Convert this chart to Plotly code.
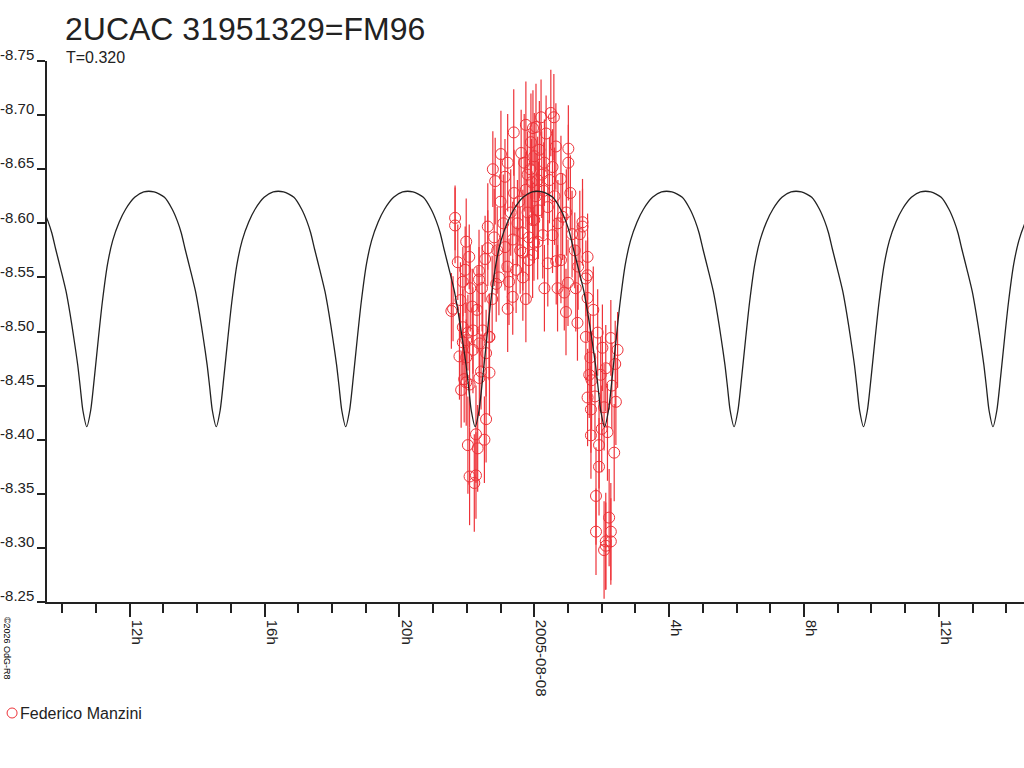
import pandas as pd
import plotly.graph_objects as go

day0 = pd.Timestamp("2005-08-08 00:00")

# observations: hours from 2005-08-08 00:00, magnitude, error
obs_hours = [
    -2.35, -2.35, -2.02, -2.27, -1.93, -2.12, -1.64, -1.64, -2.41, -1.84,
    -1.38, -1.38, -1.46, -1.19, -1.23, -1.16, -0.99, -0.79, -0.87, -0.61,
    -0.25, -0.04, -0.39, -0.30, -0.20, -0.25, -0.60, -1.05, -0.75, -0.64,
    -0.79, -1.13, -0.34, -0.34, -0.16, -0.16, -0.01, -0.20, -0.05, -0.34,
    -2.12, -1.82, -1.53, -1.34, -1.97, -0.54, -0.87, -0.64,
    0.49, 0.58, 0.20, 0.05, 1.01, 1.01, 0.64, 0.35, 0.79, 1.07,
    1.43, 1.43, 0.25, 0.10, 0.40, -0.05, 0.54, 0.79, 1.58, 1.58,
    1.53, 0.69, 0.89, 1.23, 0.94, 1.28, 1.58, 1.88, 2.27, 0.00,
    0.40, 0.84, 0.10, 0.54, 0.30,
    -2.22, -2.12, -1.33, -1.63, -1.43, -1.58, -1.33, -1.63, -2.02, -1.92,
    -2.17, -1.43, -1.73, -1.48, -1.97, -1.68, -1.92, -1.73, -1.78, -2.02,
    -1.82,
    1.53, 2.47, 2.02, 1.66, 1.63, 1.97, 2.12, 1.58, 1.68, 2.07,
    2.42, 2.17, 1.68, 1.92, 2.37, 1.92, 1.83, 1.83, 2.22, 2.27,
    2.12, 2.27, 2.07, 2.12,
    -2.05, -2.19, -2.08, -2.02,
    -0.10, 0.00, 0.15, 0.22, -0.12, 0.28, 0.05, -0.08, 0.12, 0.45,
    0.60, 0.70, 0.95, 1.12, 1.20, 1.30, 1.35, -0.45, -0.50, -0.70,
    -0.92, -1.00, -1.10, -0.80, -0.42, 0.30, 0.65, 1.00, -0.25, -1.25,
    -1.55, -1.70, -1.90, -2.46, 1.75, 1.70, 2.00, 2.30, 2.40, 1.80,
]
obs_mag = [
    -8.605, -8.598, -8.583, -8.564, -8.569, -8.546, -8.556, -8.548, -8.521, -8.523,
    -8.597, -8.577, -8.567, -8.587, -8.650, -8.639, -8.664, -8.656, -8.643, -8.684,
    -8.691, -8.688, -8.665, -8.656, -8.645, -8.631, -8.628, -8.550, -8.546, -8.532,
    -8.521, -8.544, -8.550, -8.573, -8.566, -8.587, -8.582, -8.610, -8.603, -8.591,
    -8.504, -8.501, -8.501, -8.495, -8.499, -8.557, -8.578, -8.585,
    -8.702, -8.698, -8.698, -8.689, -8.669, -8.656, -8.671, -8.683, -8.641, -8.628,
    -8.601, -8.597, -8.589, -8.583, -8.563, -8.571, -8.589, -8.566, -8.569, -8.552,
    -8.549, -8.540, -8.536, -8.540, -8.518, -8.508, -8.531, -8.499, -8.494, -8.603,
    -8.615, -8.606, -8.640, -8.652, -8.656,
    -8.477, -8.490, -8.495, -8.489, -8.480, -8.463, -8.462, -8.457, -8.453, -8.451,
    -8.446, -8.419, -8.405, -8.400, -8.395, -8.392, -8.366, -8.367, -8.360, -8.492,
    -8.483,
    -8.495, -8.483, -8.485, -8.476, -8.460, -8.460, -8.466, -8.439, -8.428, -8.430,
    -8.435, -8.407, -8.404, -8.395, -8.388, -8.375, -8.348, -8.315, -8.328, -8.315,
    -8.306, -8.306, -8.298, -8.302,
    -8.557, -8.529, -8.456, -8.476,
    -8.675, -8.662, -8.668, -8.645, -8.650, -8.630, -8.625, -8.638, -8.612, -8.640,
    -8.625, -8.600, -8.610, -8.590, -8.575, -8.560, -8.590, -8.620, -8.600, -8.610,
    -8.600, -8.620, -8.575, -8.560, -8.575, -8.540, -8.565, -8.545, -8.530, -8.530,
    -8.540, -8.520, -8.540, -8.519, -8.520, -8.455, -8.410, -8.450, -8.470, -8.440,
]
obs_err = [
    0.030, 0.035, 0.040, 0.035, 0.030, 0.032, 0.038, 0.030, 0.030, 0.035,
    0.040, 0.035, 0.040, 0.045, 0.035, 0.040, 0.040, 0.045, 0.035, 0.040,
    0.040, 0.035, 0.040, 0.045, 0.040, 0.035, 0.040, 0.035, 0.040, 0.035,
    0.040, 0.035, 0.040, 0.035, 0.040, 0.040, 0.035, 0.040, 0.035, 0.040,
    0.035, 0.040, 0.035, 0.040, 0.035, 0.040, 0.040, 0.035,
    0.040, 0.040, 0.035, 0.040, 0.040, 0.035, 0.040, 0.035, 0.040, 0.035,
    0.040, 0.035, 0.040, 0.035, 0.040, 0.040, 0.035, 0.040, 0.040, 0.035,
    0.035, 0.040, 0.035, 0.040, 0.040, 0.035, 0.040, 0.040, 0.035, 0.040,
    0.035, 0.040, 0.040, 0.035, 0.040,
    0.040, 0.035, 0.040, 0.035, 0.040, 0.035, 0.040, 0.035, 0.040, 0.040,
    0.035, 0.040, 0.045, 0.040, 0.045, 0.040, 0.045, 0.040, 0.045, 0.035,
    0.040,
    0.040, 0.035, 0.040, 0.040, 0.040, 0.035, 0.040, 0.045, 0.040, 0.040,
    0.040, 0.045, 0.040, 0.040, 0.045, 0.045, 0.045, 0.040, 0.045, 0.045,
    0.045, 0.040, 0.045, 0.040,
    0.040, 0.035, 0.040, 0.035,
    0.045, 0.040, 0.045, 0.040, 0.040, 0.045, 0.040, 0.040, 0.045, 0.040,
    0.045, 0.040, 0.040, 0.040, 0.035, 0.040, 0.040, 0.040, 0.040, 0.040,
    0.045, 0.040, 0.040, 0.040, 0.040, 0.040, 0.040, 0.040, 0.040, 0.040,
    0.040, 0.040, 0.040, 0.035, 0.040, 0.045, 0.040, 0.040, 0.040, 0.040,
]

# fitted model, one cycle (phase 0 = faint cusp)
model_phase = [0.0, 0.03, 0.06, 0.09, 0.12, 0.16, 0.20, 0.25, 0.30, 0.37, 0.44, 0.52,
               0.60, 0.66, 0.70, 0.73, 0.76, 0.80, 0.84, 0.87, 0.90, 0.93, 0.95, 0.97, 1.0]
model_mag = [-8.412, -8.427, -8.459, -8.494, -8.527, -8.562, -8.584, -8.601, -8.613,
             -8.624, -8.629, -8.629, -8.624, -8.613, -8.602, -8.591, -8.576, -8.557,
             -8.537, -8.517, -8.494, -8.469, -8.448, -8.427, -8.412]
model_epoch_h = -1.755
model_period_h = 3.84
model_cycles = range(-4, 5)

y_ticks = [-8.75, -8.70, -8.65, -8.60, -8.55, -8.50, -8.45, -8.40, -8.35, -8.30, -8.25]
x_tick_hours = [-12, -8, -4, 0, 4, 8, 12]
x_tick_text = ["12h", "16h", "20h", "2005-08-08", "4h", "8h", "12h"]
x_range_hours = [-14.455, 14.526]

red = "#ee3339"
ink = "#222222"


def to_time(hours):
    return day0 + pd.to_timedelta(pd.Series(hours, dtype=float), unit="h")


model_h, model_y = [], []
for k in model_cycles:
    for p, m in zip(model_phase, model_mag):
        if k > model_cycles[0] and p == 0.0:
            continue  # cusp already added by the previous cycle
        model_h.append(model_epoch_h + (k + p) * model_period_h)
        model_y.append(m)

fig = go.Figure()

fig.add_trace(go.Scatter(
    x=to_time(obs_hours), y=obs_mag,
    mode="markers",
    name="Federico Manzini",
    marker=dict(symbol="circle-open", size=11, color=red, line=dict(width=1)),
    error_y=dict(type="data", array=obs_err, color=red, thickness=1.2, width=0),
))

fig.add_trace(go.Scatter(
    x=to_time(model_h), y=model_y,
    mode="lines",
    line=dict(color=ink, width=1.3, shape="spline", smoothing=0.7),
    hoverinfo="skip",
))

plot_l, plot_r, plot_t, plot_b = 45, 1024, 61, 602


def px(xp):
    return (xp - plot_l) / (plot_r - plot_l)


def py(yp):
    return (plot_b - yp) / (plot_b - plot_t)


fig.add_annotation(text="T=0.320", x=px(62), y=py(58), xref="paper", yref="paper",
                   xanchor="left", yanchor="middle", showarrow=False,
                   font=dict(size=16, color=ink))
fig.add_annotation(text="Federico Manzini", x=px(16), y=py(713), xref="paper", yref="paper",
                   xanchor="left", yanchor="middle", showarrow=False,
                   font=dict(size=16, color=ink))
fig.add_annotation(text="©2026 OdG-R8", x=px(5), y=py(648), xref="paper", yref="paper",
                   xanchor="center", yanchor="middle", showarrow=False, textangle=90,
                   font=dict(size=9, color="#000"))
fig.add_shape(type="circle", xref="paper", yref="paper",
              xsizemode="pixel", ysizemode="pixel",
              xanchor=px(10), yanchor=py(713), x0=-5, x1=5, y0=-5, y1=5,
              line=dict(color=red, width=1))

fig.update_layout(
    width=1024,
    height=768,
    margin=dict(l=plot_l, r=1024 - plot_r, t=plot_t, b=768 - plot_b),
    paper_bgcolor="white",
    plot_bgcolor="white",
    showlegend=False,
    font=dict(family="Liberation Sans, Arial, sans-serif", color=ink),
    title=dict(text="2UCAC 31951329=FM96", x=65 / 1024, xanchor="left", xref="container",
               y=1 - 29 / 768, yanchor="middle", yref="container",
               font=dict(size=32, color=ink)),
    xaxis=dict(
        type="date",
        range=list(to_time(x_range_hours)),
        tickmode="array",
        tickvals=list(to_time(x_tick_hours)),
        ticktext=x_tick_text,
        tickangle=90,
        ticks="outside", ticklen=13, tickwidth=1.5, tickcolor=ink,
        ticklabelshift=7,
        showline=True, linecolor=ink, linewidth=1.5,
        showgrid=False, zeroline=False,
        tickfont=dict(size=15, color=ink),
        minor=dict(ticks="outside", ticklen=9, tickwidth=1.5, tickcolor=ink,
                   dtick=3600000, tick0="2005-08-08", showgrid=False),
    ),
    yaxis=dict(
        range=[-8.25, -8.75],
        tickmode="array",
        tickvals=y_ticks,
        ticktext=[f"{v:.2f}" for v in y_ticks],
        ticks="outside", ticklen=8, tickwidth=1.5, tickcolor=ink,
        ticklabelshift=6,
        showline=True, linecolor=ink, linewidth=1.5,
        showgrid=False, zeroline=False,
        tickfont=dict(size=15, color=ink),
    ),
)

fig.write_html("out.html", config={"displayModeBar": False},
               post_script="document.body.style.margin = '0';")
